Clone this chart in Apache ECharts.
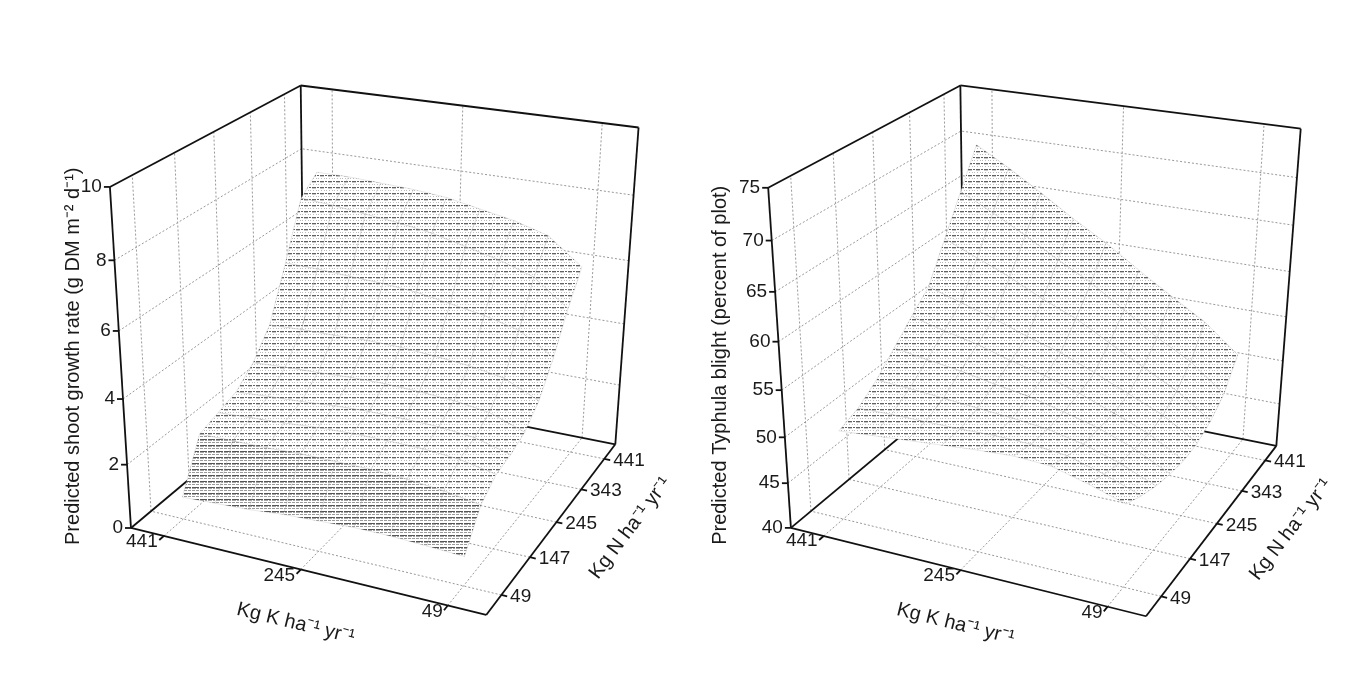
<!DOCTYPE html>
<html>
<head>
<meta charset="utf-8">
<script src="https://cdn.jsdelivr.net/npm/echarts@6/dist/echarts.min.js"></script>
<style>
  html, body { margin: 0; background: #fff; }
  #chart { width: 1358px; height: 674px; }
</style>
</head>
<body>
<div id="chart"></div>
<script>
// tick labels on the three axes
const kTicks = [441, 245, 49];
const nTicks = [49, 147, 245, 343, 441];
const growthTicks = [0, 2, 4, 6, 8, 10];
const blightTicks = [40, 45, 50, 55, 60, 65, 70, 75];

// fertiliser levels of the predicted surfaces (kg/ha/yr)
const kLevels = [49, 98, 147, 196, 245, 294, 343, 392, 441];
const nLevels = [49, 98, 147, 196, 245, 294, 343, 392, 441];

// one row per N level, columns follow kLevels
const growthRate = [
  [0.9, 0.95, 1.0, 1.0, 0.95, 0.9, 0.8, 0.75, 0.7],
  [1.9, 2.08, 2.19, 2.25, 2.26, 2.26, 2.22, 2.21, 2.2],
  [2.3, 2.52, 2.61, 2.63, 2.63, 2.59, 2.51, 2.46, 2.4],
  [2.4, 2.69, 2.8, 2.83, 2.84, 2.8, 2.72, 2.67, 2.6],
  [2.6, 2.99, 3.14, 3.21, 3.25, 3.24, 3.19, 3.16, 3.1],
  [3.1, 3.6, 3.78, 3.88, 3.96, 3.98, 3.95, 3.94, 3.9],
  [4.0, 4.65, 4.92, 5.1, 5.28, 5.37, 5.42, 5.48, 5.5],
  [5.1, 5.89, 6.24, 6.49, 6.74, 6.9, 7.01, 7.13, 7.2],
  [6.0, 6.8, 7.1, 7.3, 7.5, 7.6, 7.65, 7.7, 7.7]
];
const typhulaBlight = [
  [48.8, 50.0, 51.0, 51.2, 51.0, 50.7, 50.4, 50.1, 49.8],
  [47.8, 49.2, 50.3, 50.7, 50.8, 50.7, 50.7, 50.7, 50.6],
  [47.0, 48.6, 49.8, 50.6, 51.0, 51.3, 51.6, 51.9, 52.1],
  [46.5, 48.4, 49.8, 50.8, 51.7, 52.3, 53.0, 53.5, 54.1],
  [46.2, 48.3, 49.8, 51.2, 52.4, 53.3, 54.4, 55.2, 56.1],
  [46.4, 48.7, 50.3, 51.9, 53.4, 54.5, 55.8, 56.9, 58.0],
  [47.2, 49.8, 51.7, 53.7, 55.7, 57.2, 59.0, 60.5, 62.0],
  [48.6, 51.5, 53.5, 55.9, 58.3, 60.2, 62.3, 64.2, 66.0],
  [51.5, 54.5, 56.7, 59.0, 61.4, 63.5, 65.8, 68.0, 70.0]
];

const RATE_MAX = 490;
const FONT = '"Liberation Sans", Arial, sans-serif';

// box corners on the page, keyed by (K, N, Z) as 0/1 of the box
const panels = [
  {
    values: growthRate, zTicks: growthTicks, zMin: 0, zMax: 10,
    zTitle: 'Predicted shoot growth rate (g DM m\u207B\u00B2 d\u207B\u00B9)',
    titleDx: -57, denseRows: 1,
    corners: [[0,0,0,486,616],[1,0,0,132,527],[0,1,0,616,443],[1,1,0,303,384],
              [1,0,1,109,187],[1,1,1,302,85],[0,1,1,638,128]]
  },
  {
    values: typhulaBlight, zTicks: blightTicks, zMin: 40, zMax: 75,
    zTitle: 'Predicted Typhula blight (percent of plot)',
    titleDx: -70, denseRows: 0,
    corners: [[0,0,0,1146,617],[1,0,0,792,527],[0,1,0,1277,445],[1,1,0,963,384],
              [1,0,1,767,188],[1,1,1,962,85],[0,1,1,1300,129]]
  }
];

// perspective camera fitted to the box corners
function fitCamera(anchors) {
  const A = [], r = [];
  anchors.forEach(([a, b, c, x, y]) => {
    x /= 100; y /= 100;
    A.push([a, b, c, 1, 0, 0, 0, 0, -x * a, -x * b, -x * c]); r.push(x);
    A.push([0, 0, 0, 0, a, b, c, 1, -y * a, -y * b, -y * c]); r.push(y);
  });
  const n = 11, M = [];
  for (let i = 0; i < n; i++) {
    M.push(new Array(n + 1).fill(0));
    A.forEach((row, k) => {
      for (let j = 0; j < n; j++) M[i][j] += row[i] * row[j];
      M[i][n] += row[i] * r[k];
    });
  }
  for (let i = 0; i < n; i++) {
    let p = i;
    for (let k = i + 1; k < n; k++) if (Math.abs(M[k][i]) > Math.abs(M[p][i])) p = k;
    const t = M[i]; M[i] = M[p]; M[p] = t;
    for (let k = 0; k < n; k++) {
      if (k === i) continue;
      const f = M[k][i] / M[i][i];
      for (let j = i; j <= n; j++) M[k][j] -= f * M[i][j];
    }
  }
  const h = M.map((row, i) => row[n] / row[i]);
  return (a, b, c) => {
    const w = h[8] * a + h[9] * b + h[10] * c + 1;
    return [100 * (h[0] * a + h[1] * b + h[2] * c + h[3]) / w,
            100 * (h[4] * a + h[5] * b + h[6] * c + h[7]) / w, w];
  };
}

// mesh texture for the surface
function makeHatch(rows) {
  const c = document.createElement('canvas');
  c.width = 8; c.height = 6;
  const g = c.getContext('2d');
  g.fillStyle = '#fff'; g.fillRect(0, 0, 8, 6);
  rows.forEach(([y, alpha, xs]) => {
    g.fillStyle = 'rgba(30,30,30,' + alpha + ')';
    xs.forEach(x => g.fillRect(x, y, 1, 1));
  });
  return c;
}
const hatch = makeHatch([[1, 0.7, [0, 1, 2, 3, 5, 6]], [2, 0.25, [0, 1, 2, 3]], [4, 0.3, [1, 4, 6]]]);
const hatchDense = makeHatch([[1, 0.75, [0, 1, 2, 3, 4, 5, 6]], [2, 0.4, [0, 1, 2, 3, 5, 6]],
                              [4, 0.45, [0, 1, 2, 4, 5, 6]]]);

panels.forEach(p => {
  p.cam = fitCamera(p.corners);
  p.norm = (k, n, z) => p.cam(k / RATE_MAX, n / RATE_MAX, (z - p.zMin) / (p.zMax - p.zMin));
  const near = p.cam(0, 0, 0)[2], far = p.cam(1, 1, 0)[2];
  const quads = [];
  for (let j = 0; j < nLevels.length - 1; j++) {
    for (let i = 0; i < kLevels.length - 1; i++) {
      const pts = [[i, j], [i + 1, j], [i + 1, j + 1], [i, j + 1]]
        .map(([a, b]) => p.norm(kLevels[a], nLevels[b], p.values[b][a]));
      const w = pts.reduce((s, q) => s + q[2], 0) / 4;
      quads.push({ i, j, depth: (w - near) / (far - near) });
    }
  }
  quads.sort((a, b) => b.depth - a.depth);
  p.quads = quads;
});

function frameRender(p) {
  return function (params, api) {
    const P = (k, n, z) => { const s = p.norm(k, n, z); return api.coord([s[0], s[1]]); };
    const out = [];
    const grid = { stroke: '#999', lineWidth: 1, lineDash: [2, 2] };
    const edge = { stroke: '#111', lineWidth: 1.8 };
    const line = (a, b, style) => out.push({
      type: 'line', shape: { x1: a[0], y1: a[1], x2: b[0], y2: b[1] }, style
    });
    const text = (str, at, opts) => out.push({
      type: 'text', x: at[0], y: at[1], rotation: opts.rotation || 0,
      style: { text: str, fill: '#1a1a1a', fontSize: opts.size || 19, fontFamily: FONT,
               align: opts.align || 'center', verticalAlign: 'middle' }
    });
    const z0 = p.zMin, z1 = p.zMax, M = RATE_MAX;
    const inner = p.zTicks.filter(z => z > z0 && z < z1);
    // walls and floor grid
    nTicks.forEach(n => line(P(M, n, z0), P(M, n, z1), grid));
    inner.forEach(z => line(P(M, 0, z), P(M, M, z), grid));
    kTicks.forEach(k => line(P(k, M, z0), P(k, M, z1), grid));
    inner.forEach(z => line(P(0, M, z), P(M, M, z), grid));
    kTicks.forEach(k => line(P(k, 0, z0), P(k, M, z0), grid));
    nTicks.forEach(n => line(P(0, n, z0), P(M, n, z0), grid));
    // box edges
    [[[0,0,z0],[M,0,z0]], [[0,0,z0],[0,M,z0]], [[M,0,z0],[M,M,z0]], [[0,M,z0],[M,M,z0]],
     [[M,0,z0],[M,0,z1]], [[M,M,z0],[M,M,z1]], [[0,M,z0],[0,M,z1]],
     [[M,0,z1],[M,M,z1]], [[M,M,z1],[0,M,z1]]]
      .forEach(([a, b]) => line(P(...a), P(...b), edge));
    // vertical axis
    p.zTicks.forEach(z => {
      const a = P(M, 0, z);
      line(a, [a[0] - 6, a[1]], edge);
      text(String(z), [a[0] - 8, a[1]], { align: 'right' });
    });
    // K axis
    kTicks.forEach(k => {
      const a = P(k, 0, z0), b = P(k, M, z0);
      const l = Math.hypot(a[0] - b[0], a[1] - b[1]);
      const d = [(a[0] - b[0]) / l, (a[1] - b[1]) / l];
      line(a, [a[0] + 6 * d[0], a[1] + 6 * d[1]], edge);
      text(String(k), [a[0] + 8 * d[0], a[1] + 8 * d[1]], { align: 'right' });
    });
    // N axis
    nTicks.forEach(n => {
      const a = P(0, n, z0), b = P(M, n, z0);
      const l = Math.hypot(a[0] - b[0], a[1] - b[1]);
      const d = [(a[0] - b[0]) / l, (a[1] - b[1]) / l];
      line(a, [a[0] + 6 * d[0], a[1] + 6 * d[1]], edge);
      text(String(n), [a[0] + 9 * d[0], a[1] + 9 * d[1]], { align: 'left' });
    });
    // axis titles
    const zb = P(M, 0, z0);
    text(p.zTitle, [zb[0] + p.titleDx, zb[1] + 17], { align: 'left', rotation: Math.PI / 2, size: 20 });
    const kA = P(M, 0, z0), kB = P(0, 0, z0), km = P(M / 2, 0, z0);
    text('Kg K ha\u207B\u00B9 yr\u207B\u00B9', [km[0] - 5, km[1] + 54],
         { rotation: -Math.atan2(kB[1] - kA[1], kB[0] - kA[0]), size: 20 });
    const nA = P(0, 0, z0), nB = P(0, M, z0), nm = P(0, M / 2, z0);
    text('Kg N ha\u207B\u00B9 yr\u207B\u00B9', [nm[0] + 74, nm[1] + 6],
         { rotation: -Math.atan2(nB[1] - nA[1], nB[0] - nA[0]), size: 20 });
    return { type: 'group', children: out };
  };
}

function surfaceRender(p) {
  return function (params, api) {
    const q = p.quads[params.dataIndex];
    const pts = [[q.i, q.j], [q.i + 1, q.j], [q.i + 1, q.j + 1], [q.i, q.j + 1]].map(([a, b]) => {
      const s = p.norm(kLevels[a], nLevels[b], p.values[b][a]);
      return api.coord([s[0], s[1]]);
    });
    const tex = q.j < p.denseRows ? hatchDense : hatch;
    return {
      type: 'polygon', z2: params.dataIndex,
      shape: { points: pts },
      style: { fill: { image: tex, repeat: 'repeat' }, stroke: 'rgba(130,130,130,0.3)', lineWidth: 0.6 }
    };
  };
}

const series = [];
panels.forEach(p => {
  series.push({ type: 'custom', renderItem: frameRender(p), data: [[0, 0]], clip: false, silent: true, z: 1 });
  series.push({ type: 'custom', renderItem: surfaceRender(p), data: p.quads.map(q => [q.i, q.j]),
                clip: false, silent: true, z: 2 });
});

const chart = echarts.init(document.getElementById('chart'));
chart.setOption({
  animation: false,
  backgroundColor: '#fff',
  grid: { left: 0, right: 0, top: 0, bottom: 0 },
  xAxis: { type: 'value', min: 0, max: 1358, show: false },
  yAxis: { type: 'value', min: 0, max: 674, inverse: true, show: false },
  series
});
</script>
</body>
</html>
